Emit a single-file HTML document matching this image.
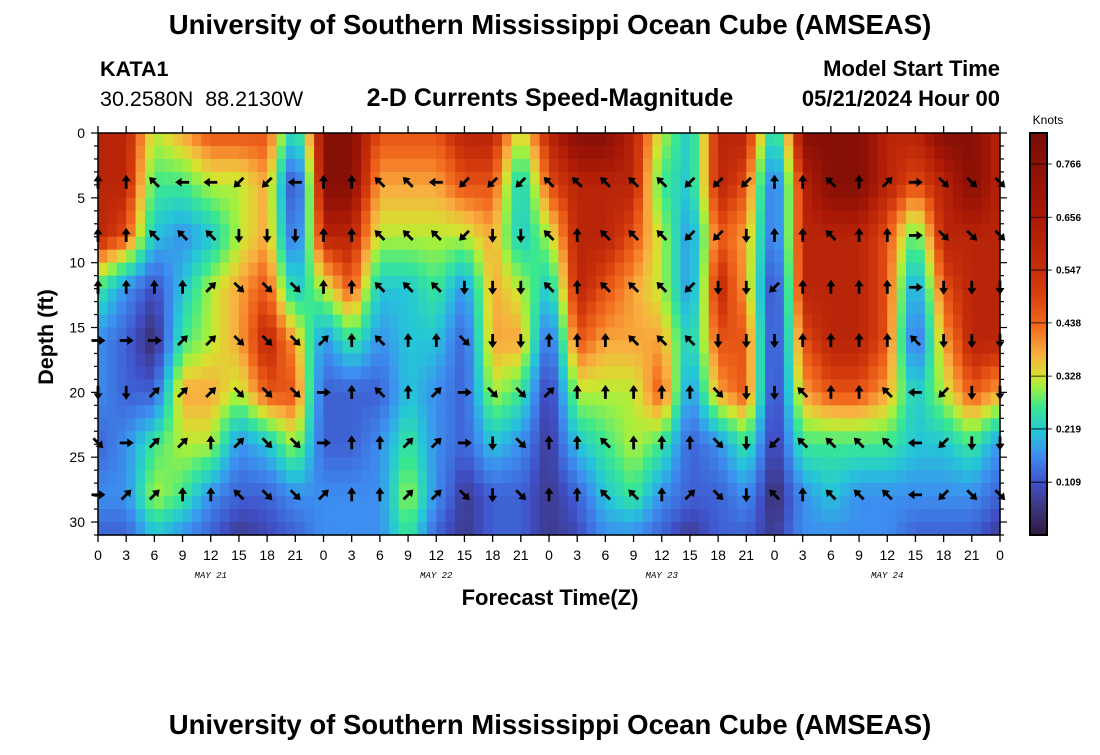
<!DOCTYPE html>
<html><head><meta charset="utf-8"><style>
body{margin:0;background:#fff;width:1100px;height:750px;overflow:hidden;font-family:"Liberation Sans",sans-serif}
</style></head><body>
<svg id="chart" width="1100" height="750" xmlns="http://www.w3.org/2000/svg" font-family="Liberation Sans, sans-serif">
<text x="550" y="34" text-anchor="middle" font-size="27.5" font-weight="bold">University of Southern Mississippi Ocean Cube (AMSEAS)</text>
<text x="100" y="76" font-size="21.5" font-weight="bold">KATA1</text>
<text x="100" y="106" font-size="21.5" xml:space="preserve">30.2580N  88.2130W</text>
<text x="550" y="106" text-anchor="middle" font-size="25" font-weight="bold">2-D Currents Speed-Magnitude</text>
<text x="1000" y="76" text-anchor="end" font-size="22" font-weight="bold">Model Start Time</text>
<text x="1000" y="106" text-anchor="end" font-size="22" font-weight="bold">05/21/2024 Hour 00</text>
<text transform="translate(53,337) rotate(-90)" text-anchor="middle" font-size="21.5" font-weight="bold">Depth (ft)</text>
<text x="550" y="605" text-anchor="middle" font-size="22" font-weight="bold">Forecast Time(Z)</text>
<text x="1048" y="124" text-anchor="middle" font-size="12">Knots</text>
<text x="550" y="734" text-anchor="middle" font-size="27.5" font-weight="bold">University of Southern Mississippi Ocean Cube (AMSEAS)</text>
<g id="heat"></g><g id="arrows"></g><g id="axes"></g><g id="cbar"></g>
</svg>
<script>
// speed level (0-10 index), rows = depths, columns every 3 h
const times=[0,3,6,9,12,15,18,21,24,27,30,33,36,39,42,45,48,51,54,57,60,63,66,69,72,75,78,81,84,87,90,93,96];
const depths=[0,4,8,12,16,20,24,28,31];
const speedD0 =[9,9,6,7,8,8,8,4,10,10,8,8,8,9,9,6,9,10,10,9,6,4,9,9,4,10,10,10,9,9,10,10,9];
const speedD4 =[9,9,5,5,6,6,7,1,10,10,7,7,7,8,8,4,8,9,9,9,5,4,9,8,2,9,10,10,9,8,9,10,9];
const speedD8 =[9,8,4,3,4,6,7,2,9,9,6,6,6,6,7,4,6,9,9,8,6,3,8,7,2,9,9,9,8,5,9,9,9];
const speedD12=[5,3,1.5,4,6,7,8,4,6,8,4,4,5,3,7,6,4,9,8,7,6,3,9,7,1,9,9,9,8,3,8,9,9];
const speedD16=[3,2,0.5,5,6,7,9,7,3,5,3,4,4,2,7,7,2,8,7,7,7,4,8,8,1,8,9,9,8,2,7,9,9];
const speedD20=[3,2,2,7,7,6,8,8,2,2,2,4,3,2,6,5,1,6,6,6,8,3,7,8,1,7,8,8,7,4,6,8,7];
const speedD24=[2,3,5,6,6,3,4,6,2,2,3,5,3,2,4,3,1,4,5,6,5,2,3,5,1,5,5,5,5,4,4,5,3];
const speedD28=[3,3,6,5,3,2,2,3,3,3,3,6,3,1,2,2,1,2,4,5,3,2,2,3,0.5,3,4,3,3,3,3,3,2];
const speedD31=[2,2,4,3,2,1,1.5,2,3,3,3,5,2,1,2,2,1,1.5,3,3,2,1,2,2,1,3,3,3,3,2,2,2,1];
const speedRows=[speedD0,speedD4,speedD8,speedD12,speedD16,speedD20,speedD24,speedD28,speedD31];
const arrowDepths=[3.8,7.9,11.9,16,20,23.9,27.9];
const dirD4 ="N N NW W W SW SW W N N NW NW W SW SW SW NW NW NW NW NW SW SW SW N N NW N NE E SE SE SE".split(" ");
const dirD8 ="N N NW NW NW S S S N N NW NW NW SW S S NW N NW NW NW SW SW S N N NW N N E SE SE SE".split(" ");
const dirD12="N N N N NE SE SE SE N N NW NW NW S S S NW N NW NW NW SW S S SW N N N N E S S S".split(" ");
const dirD16="E E E NE NE SE SE SE NE N NW N N SE S S N N N NW NW NW S S S N N N N NW S S S".split(" ");
const dirD20="S S NE NE NE SE SE SE E N NW N NE E SE SE NE N N N N N SE S S NW N N NW W SW S S".split(" ");
const dirD24="SE E NE NE N NE SE SE E N N NE NE E S SE N N NW N N N SE S SW NW NW NW NW W SW S S".split(" ");
const dirD28="E NE NE N N NW SE SE NE N N NE NE SE S SE N N NW NW N NE SE S NW N NW NW NW W SW SE SE".split(" ");
const dirRows=[dirD4,dirD8,dirD12,dirD16,dirD20,dirD24,dirD28];
const cbTicks=[0.109,0.219,0.328,0.438,0.547,0.656,0.766];
const dayLabels=["MAY 21","MAY 22","MAY 23","MAY 24"];
const yTicks=[0,5,10,15,20,25,30];

const NS="http://www.w3.org/2000/svg";
const X0=98,X1=1000,Y0=133,Y1=535,TMAX=96,DMAX=31,KMAX=0.83;
// speed level index -> colorbar fraction
const levelFrac=[0,0.08,0.15,0.2,0.26,0.32,0.38,0.46,0.56,0.72,0.95];
const cmapPos=[0,0.08,0.13,0.2,0.26,0.32,0.37,0.4,0.45,0.52,0.6,0.66,0.8,1];
const cmapCol=[[46,26,62],[62,58,138],[64,80,200],[61,142,240],[37,198,216],[58,232,144],[160,240,64],[216,224,48],[248,176,64],[242,106,30],[216,64,14],[198,47,10],[168,24,6],[122,12,6]];
const xs=t=>X0+(X1-X0)*t/TMAX, ys=d=>Y0+(Y1-Y0)*d/DMAX;
function cmap(f){f=Math.max(0,Math.min(1,f));let i=0;while(i<cmapPos.length-2&&f>cmapPos[i+1])i++;
 const u=(f-cmapPos[i])/(cmapPos[i+1]-cmapPos[i]);const a=cmapCol[i],b=cmapCol[i+1];
 return `rgb(${Math.round(a[0]+(b[0]-a[0])*u)},${Math.round(a[1]+(b[1]-a[1])*u)},${Math.round(a[2]+(b[2]-a[2])*u)})`;}
function levelToFrac(v){v=Math.max(0,Math.min(10,v));const i=Math.min(9,Math.floor(v));return levelFrac[i]+(levelFrac[i+1]-levelFrac[i])*(v-i);}
function mk(tag,attrs,parent){const e=document.createElementNS(NS,tag);for(const k in attrs)e.setAttribute(k,attrs[k]);parent.appendChild(e);return e;}
function seg(arr,v){for(let i=0;i<arr.length-1;i++)if(v<=arr[i+1])return i;return arr.length-2;}
function sample(t,d){const i=seg(times,t),j=seg(depths,d);
 const ft=(t-times[i])/(times[i+1]-times[i]),fd=(d-depths[j])/(depths[j+1]-depths[j]);
 const a=speedRows[j][i],b=speedRows[j][i+1],c=speedRows[j+1][i],e=speedRows[j+1][i+1];
 return (a*(1-ft)+b*ft)*(1-fd)+(c*(1-ft)+e*ft)*fd;}
const heat=document.getElementById('heat');
for(let h=0;h<TMAX;h++)for(let d=0;d<DMAX;d++){
 const v=sample(h+0.5,d+0.5);
 const r=mk('rect',{x:xs(h).toFixed(2),y:ys(d).toFixed(2),width:(xs(h+1)-xs(h)+0.6).toFixed(2),height:(ys(d+1)-ys(d)+0.6).toFixed(2),fill:cmap(levelToFrac(v))},heat);
 
 
}
const ang={N:0,NE:45,E:90,SE:135,S:180,SW:225,W:270,NW:315};
const arrows=document.getElementById('arrows');
dirRows.forEach((row,ri)=>row.forEach((dr,ci)=>{
 const g=mk('g',{transform:`translate(${xs(times[ci]).toFixed(1)},${ys(arrowDepths[ri]).toFixed(1)}) rotate(${ang[dr]})`},arrows);
 
 
 mk('line',{x1:0,y1:6.5,x2:0,y2:-1.5,stroke:'#000','stroke-width':2.8},g);
 mk('path',{d:'M-4.5,-1 L0,-7.5 L4.5,-1 Z',fill:'#000'},g);
}));
const axes=document.getElementById('axes');
mk('rect',{x:X0,y:Y0,width:X1-X0,height:Y1-Y0,fill:'none',stroke:'#000','stroke-width':1.5},axes);
times.forEach((t,i)=>{const x=xs(t);
 mk('line',{x1:x,y1:Y1,x2:x,y2:Y1+7,stroke:'#000','stroke-width':1.3},axes);
 mk('line',{x1:x,y1:Y0,x2:x,y2:Y0-7,stroke:'#000','stroke-width':1.3},axes);
 const l=mk('text',{x:x,y:Y1+25,'text-anchor':'middle','font-size':14},axes);l.textContent=String(t%24);
 
 
});
dayLabels.forEach((s,i)=>{const l=mk('text',{x:xs(12+24*i),y:Y1+43,'text-anchor':'middle','font-size':9,'font-style':'italic','font-family':'Liberation Mono, monospace'},axes);l.textContent=s;
 
 
});
for(let d=0;d<=DMAX;d++){const y=ys(d),maj=d%5===0,len=maj?7:4;
 mk('line',{x1:X0-len,y1:y,x2:X0,y2:y,stroke:'#000','stroke-width':1.2},axes);
 mk('line',{x1:X1,y1:y,x2:X1+len,y2:y,stroke:'#000','stroke-width':1.2},axes);}
yTicks.forEach(d=>{const l=mk('text',{x:X0-13,y:ys(d)+5,'text-anchor':'end','font-size':14},axes);l.textContent=String(d);
 
 
});
const cb=document.getElementById('cbar');
const CX=1030,CW=17;
for(let i=0;i<200;i++){const y=Y1-(Y1-Y0)*(i+1)/200;mk('rect',{x:CX,y:y.toFixed(2),width:CW,height:((Y1-Y0)/200+0.6).toFixed(2),fill:cmap((i+0.5)/200)},cb);}
const cbf=mk('rect',{x:CX,y:Y0,width:CW,height:Y1-Y0,fill:'none',stroke:'#000','stroke-width':2},cb);


cbTicks.forEach(k=>{const y=Y1-(Y1-Y0)*k/KMAX;
 mk('line',{x1:CX,y1:y,x2:CX+CW+5,y2:y,stroke:'#000','stroke-width':0.8},cb);
 const l=mk('text',{x:CX+CW+9,y:y+3.5,'font-size':10,'font-weight':'bold'},cb);l.textContent=k.toFixed(3);
 
 
});
</script>
</body></html>
